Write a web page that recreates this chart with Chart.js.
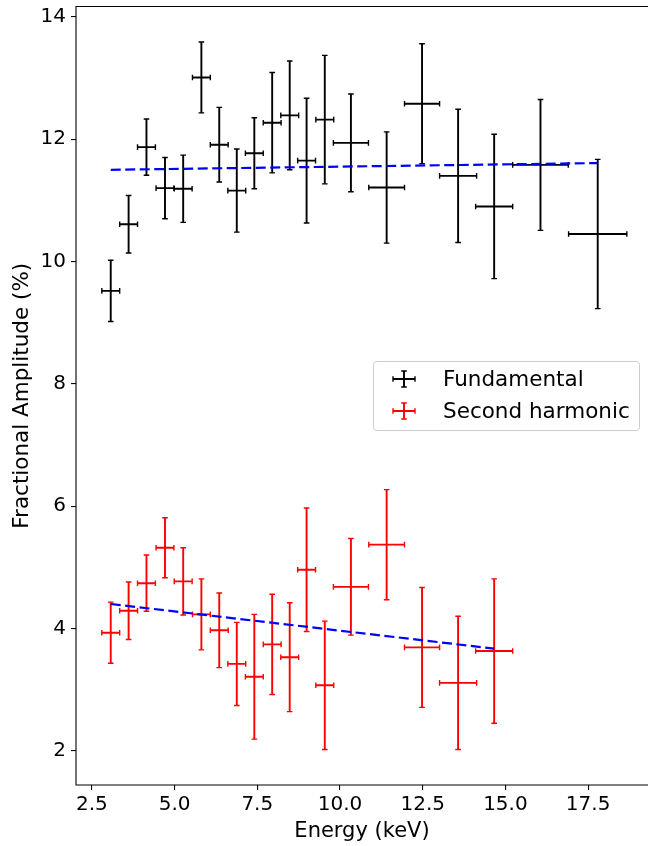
<!DOCTYPE html>
<html>
<head>
<meta charset="utf-8">
<script src="https://cdn.jsdelivr.net/npm/chart.js@4.4.1/dist/chart.umd.min.js"></script>
<style>
  html, body { margin: 0; padding: 0; background: #fff; }
  canvas { display: block; }
</style>
</head>
<body>
<canvas id="chart" width="648" height="846"></canvas>
<script>
// energy bins (keV) and half widths
const energy = [3.07, 3.61, 4.15, 4.71, 5.26, 5.81, 6.35, 6.88, 7.41, 7.95,
                8.48, 8.99, 9.54, 10.33, 11.41, 12.48, 13.57, 14.66, 16.06, 17.79];
const energyErr = [0.27, 0.27, 0.27, 0.27, 0.27, 0.27, 0.27, 0.27, 0.27, 0.27,
                   0.27, 0.27, 0.27, 0.53, 0.54, 0.53, 0.56, 0.56, 0.84, 0.88];

// fundamental (all 20 bins)
const fundAmp = [9.52, 10.61, 11.87, 11.20, 11.19, 13.01, 11.91, 11.16, 11.77, 12.27,
                 12.39, 11.65, 12.32, 11.94, 11.21, 12.58, 11.40, 10.90, 11.58, 10.45];
const fundErr = [0.50, 0.47, 0.46, 0.50, 0.55, 0.58, 0.61, 0.68, 0.58, 0.82,
                 0.89, 1.02, 1.05, 0.80, 0.91, 0.98, 1.09, 1.18, 1.07, 1.22];

// second harmonic (first 18 bins)
const harmAmp = [3.93, 4.29, 4.74, 5.32, 4.77, 4.23, 3.97, 3.42, 3.21, 3.74,
                 3.53, 4.96, 3.07, 4.68, 5.37, 3.69, 3.11, 3.63];
const harmErr = [0.50, 0.47, 0.46, 0.49, 0.55, 0.58, 0.61, 0.68, 1.02, 0.82,
                 0.89, 1.01, 1.05, 0.79, 0.90, 0.98, 1.09, 1.18];

// linear fits (end points)
const fundFitX = [3.07, 17.79];
const fundFitY = [11.50, 11.61];
const harmFitX = [3.07, 14.66];
const harmFitY = [4.40, 3.67];

const xTicks = [2.5, 5.0, 7.5, 10.0, 12.5, 15.0, 17.5];
const yTicks = [2, 4, 6, 8, 10, 12, 14];

const FONT = 'DejaVu Sans';

function points(xs, ys) {
    return ys.map((v, i) => ({ x: xs[i], y: v }));
}

// draws x and y error bars with caps for datasets that carry yErr
const errorBars = {
    id: 'errorBars',
    beforeDatasetsDraw(chart) {
        const { ctx, scales: { x, y } } = chart;
        const cap = 2.8;
        chart.data.datasets.forEach(ds => {
            if (!ds.yErr) return;
            ctx.save();
            ctx.strokeStyle = ds.barColor;
            ds.data.forEach((p, i) => {
                const px = x.getPixelForValue(p.x);
                const py = y.getPixelForValue(p.y);
                const x0 = x.getPixelForValue(p.x - ds.xErr[i]);
                const x1 = x.getPixelForValue(p.x + ds.xErr[i]);
                const y0 = y.getPixelForValue(p.y - ds.yErr[i]);
                const y1 = y.getPixelForValue(p.y + ds.yErr[i]);
                ctx.lineWidth = 1.9;
                ctx.beginPath();
                ctx.moveTo(x0, py); ctx.lineTo(x1, py);
                ctx.moveTo(px, y0); ctx.lineTo(px, y1);
                ctx.stroke();
                ctx.lineWidth = 1.4;
                ctx.beginPath();
                ctx.moveTo(x0, py - cap); ctx.lineTo(x0, py + cap);
                ctx.moveTo(x1, py - cap); ctx.lineTo(x1, py + cap);
                ctx.moveTo(px - cap, y0); ctx.lineTo(px + cap, y0);
                ctx.moveTo(px - cap, y1); ctx.lineTo(px + cap, y1);
                ctx.stroke();
            });
            ctx.restore();
        });
    }
};

// axes frame (right spine is cut off in the original)
const frame = {
    id: 'frame',
    afterDatasetsDraw(chart) {
        const { ctx, chartArea: a } = chart;
        ctx.save();
        ctx.strokeStyle = '#000';
        ctx.lineWidth = 1.1;
        ctx.beginPath();
        ctx.moveTo(a.right + 2, a.top);
        ctx.lineTo(a.left, a.top);
        ctx.lineTo(a.left, a.bottom);
        ctx.lineTo(a.right + 2, a.bottom);
        ctx.stroke();
        ctx.restore();
    }
};

// matplotlib-like legend with error bar handles
const legendBox = {
    id: 'legendBox',
    afterDraw(chart) {
        const ctx = chart.ctx;
        const entries = chart.data.datasets.filter(ds => ds.yErr);
        const bx = 373.5, by = 361.5, bw = 266, bh = 69;
        ctx.save();
        ctx.fillStyle = 'rgba(255,255,255,0.8)';
        ctx.strokeStyle = '#cccccc';
        ctx.lineWidth = 1;
        ctx.beginPath();
        ctx.roundRect(bx, by, bw, bh, 3);
        ctx.fill();
        ctx.stroke();
        ctx.font = '21.5px "' + FONT + '"';
        ctx.textBaseline = 'middle';
        ctx.textAlign = 'left';
        entries.forEach((ds, i) => {
            const cy = 379 + i * 32;
            const cx = 404;
            ctx.strokeStyle = ds.barColor;
            ctx.lineWidth = 1.9;
            ctx.beginPath();
            ctx.moveTo(cx - 11, cy); ctx.lineTo(cx + 11, cy);
            ctx.moveTo(cx, cy - 8); ctx.lineTo(cx, cy + 8);
            ctx.stroke();
            ctx.lineWidth = 1.4;
            ctx.beginPath();
            ctx.moveTo(cx - 11, cy - 2.8); ctx.lineTo(cx - 11, cy + 2.8);
            ctx.moveTo(cx + 11, cy - 2.8); ctx.lineTo(cx + 11, cy + 2.8);
            ctx.moveTo(cx - 2.8, cy - 8); ctx.lineTo(cx + 2.8, cy - 8);
            ctx.moveTo(cx - 2.8, cy + 8); ctx.lineTo(cx + 2.8, cy + 8);
            ctx.stroke();
            ctx.fillStyle = '#000';
            ctx.fillText(ds.label, 443, cy + 1);
        });
        ctx.restore();
    }
};

const tickFont = { family: FONT, size: 20 };

new Chart(document.getElementById('chart'), {
    type: 'scatter',
    data: {
        datasets: [
            {
                label: 'Fundamental',
                data: points(energy, fundAmp),
                xErr: energyErr,
                yErr: fundErr,
                barColor: '#000000',
                pointRadius: 0
            },
            {
                label: 'Second harmonic',
                data: points(energy, harmAmp),
                xErr: energyErr,
                yErr: harmErr,
                barColor: '#ff0000',
                pointRadius: 0
            },
            {
                label: 'fit fundamental',
                type: 'line',
                data: points(fundFitX, fundFitY),
                borderColor: '#0000ff',
                borderWidth: 2.2,
                borderDash: [10, 4.5],
                pointRadius: 0,
                fill: false
            },
            {
                label: 'fit harmonic',
                type: 'line',
                data: points(harmFitX, harmFitY),
                borderColor: '#0000ff',
                borderWidth: 2.2,
                borderDash: [10, 4.5],
                pointRadius: 0,
                fill: false
            }
        ]
    },
    options: {
        responsive: false,
        animation: false,
        layout: { padding: { top: 6.5, right: 0, left: 0, bottom: 0 } },
        plugins: {
            legend: { display: false },
            tooltip: { enabled: false }
        },
        scales: {
            x: {
                type: 'linear',
                min: 2.02,
                max: 19.31,
                afterBuildTicks: s => { s.ticks = xTicks.map(v => ({ value: v })); },
                afterFit: s => { s.height = 61; s.paddingLeft = 0; s.paddingRight = 0; },
                grid: { drawOnChartArea: false, drawTicks: true, tickLength: 5, color: '#000', lineWidth: 1.1 },
                border: { display: false },
                ticks: {
                    font: tickFont, color: '#000', padding: 3,
                    maxRotation: 0, autoSkip: false,
                    callback: v => v.toFixed(1)
                },
                title: {
                    display: true, text: 'Energy (keV)', color: '#000',
                    font: { family: FONT, size: 21 }, padding: { top: 0, bottom: 2 }
                }
            },
            y: {
                type: 'linear',
                min: 1.44,
                max: 14.17,
                afterBuildTicks: s => { s.ticks = yTicks.map(v => ({ value: v })); },
                afterFit: s => { s.width = 76; s.paddingTop = 0; s.paddingBottom = 0; },
                grid: { drawOnChartArea: false, drawTicks: true, tickLength: 5, color: '#000', lineWidth: 1.1 },
                border: { display: false },
                ticks: {
                    font: tickFont, color: '#000', padding: 5,
                    autoSkip: false,
                    callback: v => String(v)
                },
                title: {
                    display: true, text: 'Fractional Amplitude (%)', color: '#000',
                    font: { family: FONT, size: 21.5 }, padding: { top: 10, bottom: 0 }
                }
            }
        }
    },
    plugins: [errorBars, frame, legendBox]
});
</script>
</body>
</html>
